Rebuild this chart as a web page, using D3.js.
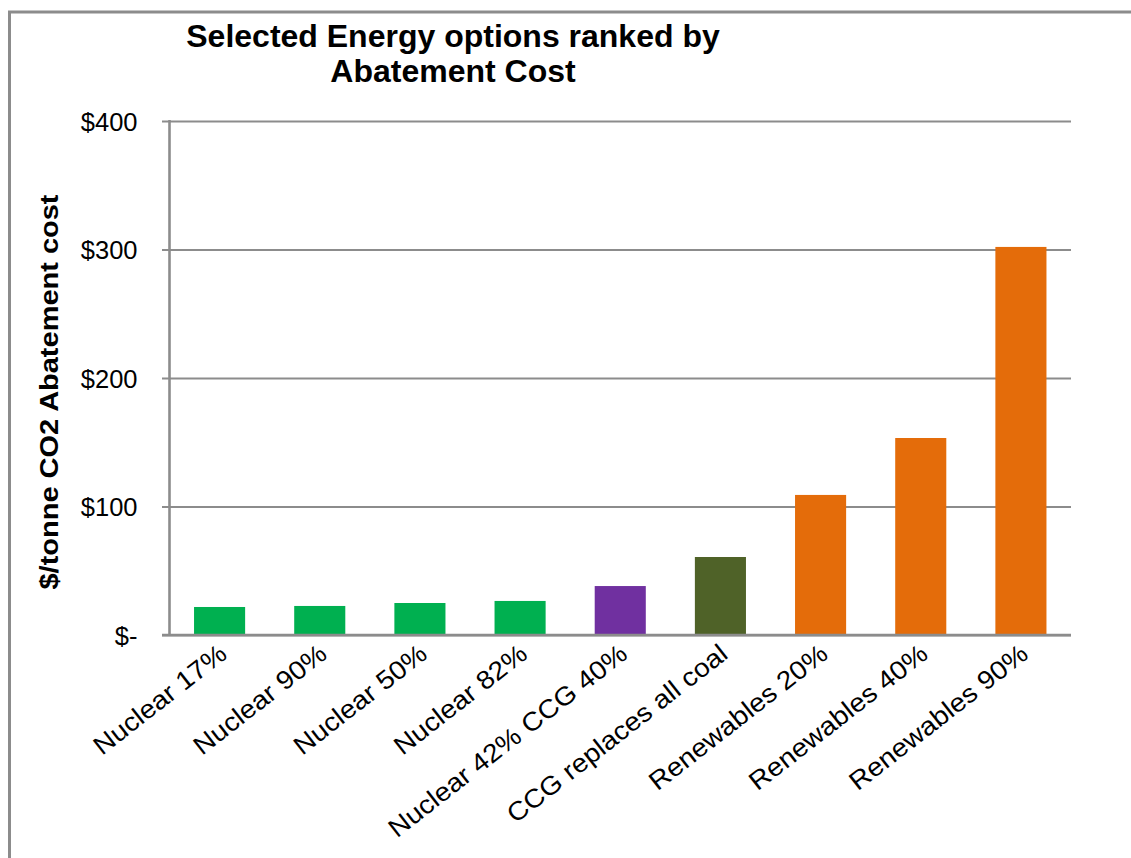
<!DOCTYPE html>
<html>
<head>
<meta charset="utf-8">
<script src="https://cdn.jsdelivr.net/npm/d3@7"></script>
<style>
  body { margin: 0; background: #ffffff; }
  svg { display: block; }
  text { font-family: "Liberation Sans", Arial, sans-serif; fill: #000; }
</style>
</head>
<body>
<svg id="chart" width="1131" height="858"></svg>
<script>
// Abatement cost per option, in $ per tonne of CO2
const categories = [
  "Nuclear 17%", "Nuclear 90%", "Nuclear 50%", "Nuclear 82%",
  "Nuclear 42% CCG 40%", "CCG replaces all coal",
  "Renewables 20%", "Renewables 40%", "Renewables 90%"
];
const costs = [21.8, 22.6, 24.9, 26.5, 38.1, 60.7, 109.0, 153.3, 302.0];
const barColors = [
  "#00b050", "#00b050", "#00b050", "#00b050",
  "#7030a0", "#4f6228",
  "#e46c0a", "#e46c0a", "#e46c0a"
];
const yTicks = [0, 100, 200, 300, 400];
const yTickLabels = ["$-", "$100", "$200", "$300", "$400"];
const titleLines = ["Selected Energy options ranked by", "Abatement Cost"];
const yAxisTitle = "$/tonne CO2 Abatement cost";

const svg = d3.select("#chart");
const W = 1131, H = 858;
const plot = { left: 169.5, right: 1071, top: 121, bottom: 635 };
const gridColor = "#8c8c8c";

// outer frame (top and left edges)
svg.append("path")
  .attr("d", `M9.5,${H} L9.5,12 L${W},12`)
  .attr("fill", "none")
  .attr("stroke", gridColor)
  .attr("stroke-width", 3);

const x = d3.scaleBand()
  .domain(categories)
  .range([plot.left, plot.right])
  .paddingInner(0.49)
  .paddingOuter(0.245);

const y = d3.scaleLinear()
  .domain([0, 400])
  .range([plot.bottom, plot.top]);

// horizontal gridlines with short ticks to the left of the axis
const yAxis = d3.axisLeft(y)
  .tickValues(yTicks)
  .tickSize(-(plot.right - plot.left))
  .tickSizeOuter(0)
  .tickFormat((d, i) => yTickLabels[i]);

const gy = svg.append("g")
  .attr("transform", `translate(${plot.left},0)`)
  .call(yAxis);
gy.select(".domain").remove();
gy.selectAll(".tick line")
  .attr("x1", -7.5)
  .attr("stroke", gridColor)
  .attr("stroke-width", 2.2);
gy.selectAll(".tick text")
  .attr("x", -32)
  .attr("dy", "0.36em")
  .style("font-size", "25.5px")
  .style("font-family", "'Liberation Sans', Arial, sans-serif")
  .attr("fill", "#000");

// bars
svg.append("g")
  .selectAll("rect")
  .data(categories)
  .join("rect")
  .attr("x", d => x(d))
  .attr("width", x.bandwidth())
  .attr("y", (d, i) => y(costs[i]))
  .attr("height", (d, i) => y(0) - y(costs[i]))
  .attr("fill", (d, i) => barColors[i]);

// vertical axis line and baseline
svg.append("line")
  .attr("x1", plot.left).attr("x2", plot.left)
  .attr("y1", y(400) - 1).attr("y2", y(0) + 1)
  .attr("stroke", gridColor).attr("stroke-width", 2.6);
svg.append("line")
  .attr("x1", plot.left - 7.5).attr("x2", plot.right)
  .attr("y1", y(0)).attr("y2", y(0))
  .attr("stroke", gridColor).attr("stroke-width", 2.6);

// rotated category labels, slightly widened along the text direction
svg.append("g")
  .selectAll("text")
  .data(categories)
  .join("text")
  .attr("text-anchor", "end")
  .attr("transform", d => `translate(${x(d) + x.bandwidth() / 2 + 9},${plot.bottom + 22}) rotate(-38) scale(1.08,1)`)
  .style("font-size", "26px")
  .text(d => d);

// chart title
svg.append("text")
  .attr("text-anchor", "middle")
  .attr("x", 453)
  .attr("y", 47)
  .style("font-size", "32px")
  .style("font-weight", "bold")
  .selectAll("tspan")
  .data(titleLines)
  .join("tspan")
  .attr("x", 453)
  .attr("dy", (d, i) => i === 0 ? 0 : 35)
  .text(d => d);

// vertical axis title
svg.append("text")
  .attr("text-anchor", "middle")
  .attr("transform", `translate(58,392) rotate(-90)`)
  .attr("textLength", 395)
  .attr("lengthAdjust", "spacingAndGlyphs")
  .style("font-size", "26px")
  .style("font-weight", "bold")
  .text(yAxisTitle);
</script>
</body>
</html>
